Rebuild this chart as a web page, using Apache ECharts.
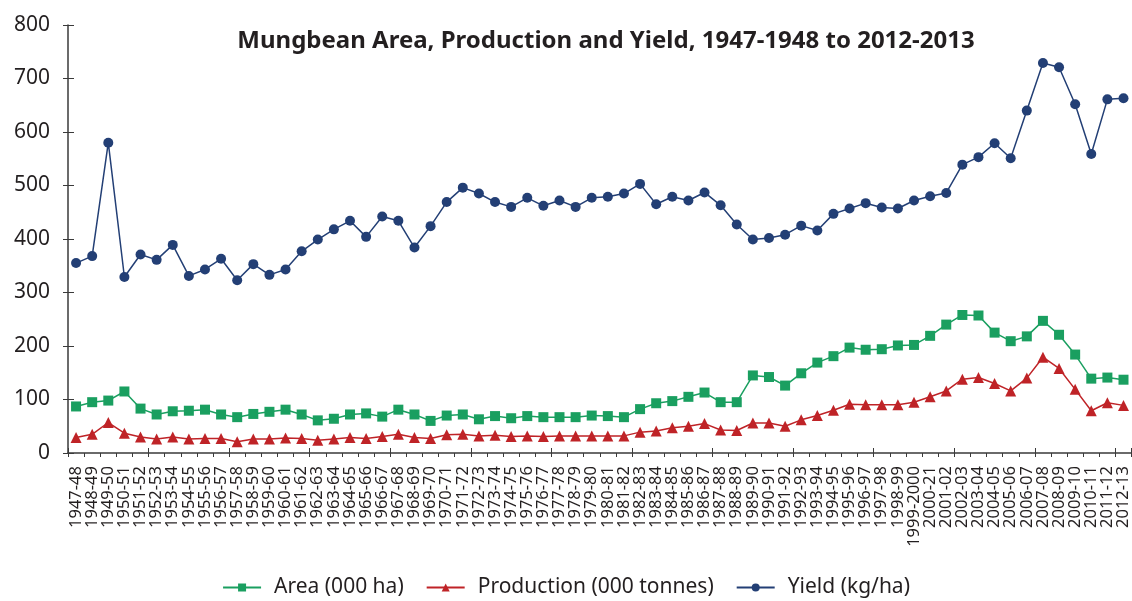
<!DOCTYPE html>
<html>
<head>
<meta charset="utf-8">
<script src="https://cdn.jsdelivr.net/npm/echarts@6/dist/echarts.min.js"></script>
<style>
  html, body { margin: 0; padding: 0; background: #fff; }
  #main { width: 1132px; height: 601px; }
</style>
</head>
<body>
<div id="main"></div>
<script>
// categories (crop years)
var years = ['1947-48','1948-49','1949-50','1950-51','1951-52','1952-53','1953-54','1954-55','1955-56','1956-57',
  '1957-58','1958-59','1959-60','1960-61','1961-62','1962-63','1963-64','1964-65','1965-66','1966-67',
  '1967-68','1968-69','1969-70','1970-71','1971-72','1972-73','1973-74','1974-75','1975-76','1976-77',
  '1977-78','1978-79','1979-80','1980-81','1981-82','1982-83','1983-84','1984-85','1985-86','1986-87',
  '1987-88','1988-89','1989-90','1990-91','1991-92','1992-93','1993-94','1994-95','1995-96','1996-97',
  '1997-98','1998-99','1999-2000','2000-21','2001-02','2002-03','2003-04','2004-05','2005-06','2006-07',
  '2007-08','2008-09','2009-10','2010-11','2011-12','2012-13'];

// Area (000 ha)
var area = [87,95,98,115,83,72,78,79,81,72,
  67,73,77,81,72,61,64,72,74,68,
  81,72,60,70,72,63,69,65,69,67,
  67,67,70,69,67,82,93,97,105,113,
  95,95,145,142,126,149,169,181,197,193,
  194,201,202,219,240,258,257,225,209,218,
  247,221,184,139,141,137];

// Production (000 tonnes)
var production = [29,35,57,37,30,26,30,26,27,27,
  21,26,26,28,27,24,26,29,27,31,
  35,29,27,34,35,32,33,31,32,31,
  32,32,32,32,32,39,41,47,50,55,
  43,42,56,56,50,62,70,80,91,90,
  90,90,95,105,116,138,141,130,116,140,
  179,158,119,79,94,89];

// Yield (kg/ha)
var yieldKg = [355,368,580,329,371,361,389,331,343,363,
  323,353,333,343,377,399,418,434,404,442,
  434,384,424,469,496,485,469,460,477,462,
  472,460,477,479,485,503,465,479,472,487,
  463,427,399,402,408,425,416,447,457,467,
  459,457,472,480,486,539,553,579,551,640,
  729,721,652,559,661,663];

var yTicks = [0, 100, 200, 300, 400, 500, 600, 700, 800];

var chart = echarts.init(document.getElementById('main'));
var axisColor = '#3a3a3a';
var option = {
  backgroundColor: '#fff',
  animation: false,
  title: {
    text: 'Mungbean Area, Production and Yield, 1947-1948 to 2012-2013',
    left: 601,
    textAlign: 'center',
    top: 24,
    textStyle: { fontFamily: 'Noto Sans', fontWeight: 'bold', fontSize: 24, color: '#231f20' }
  },
  legend: {
    top: 577,
    left: 'center',
    padding: 0,
    itemWidth: 38,
    itemHeight: 10,
    itemGap: 22,
    textStyle: { fontFamily: 'Noto Sans', fontSize: 21, color: '#231f20', padding: [0, 0, 0, 8] },
    data: ['Area (000 ha)', 'Production (000 tonnes)', 'Yield (kg/ha)']
  },
  grid: { left: 68, right: 0, top: 25, bottom: 148 },
  xAxis: [{
    type: 'category',
    data: years,
    boundaryGap: true,
    axisLine: { lineStyle: { color: axisColor, width: 1.5 } },
    axisTick: { show: true, length: 4, lineStyle: { color: axisColor } },
    axisLabel: {
      interval: 0, rotate: 90, margin: 13,
      fontFamily: 'Noto Sans', fontSize: 16.5, color: '#231f20'
    },
    splitLine: { show: false }
  }, {
    type: 'category',
    data: years,
    position: 'bottom',
    boundaryGap: true,
    axisLine: { show: false },
    axisTick: { show: true, inside: true, length: 5, lineStyle: { color: axisColor } },
    axisLabel: { show: false },
    splitLine: { show: false }
  }],
  yAxis: [{
    type: 'value',
    min: yTicks[0],
    max: yTicks[yTicks.length - 1],
    interval: 100,
    axisLine: { show: true, lineStyle: { color: axisColor, width: 1.5 } },
    axisTick: { show: true, length: 5, lineStyle: { color: axisColor } },
    axisLabel: { margin: 18, fontFamily: 'Noto Sans', fontSize: 21, color: '#231f20' },
    splitLine: { show: false }
  }, {
    type: 'value',
    min: yTicks[0],
    max: yTicks[yTicks.length - 1],
    interval: 100,
    position: 'left',
    axisLine: { show: false },
    axisTick: { show: true, inside: true, length: 6, lineStyle: { color: axisColor } },
    axisLabel: { show: false },
    splitLine: { show: false }
  }],
  series: [
    {
      name: 'Area (000 ha)',
      type: 'line',
      data: area,
      symbol: 'rect',
      symbolSize: 10,
      color: '#1a9f60',
      lineStyle: { width: 1.5, color: '#1a9f60' },
      itemStyle: { color: '#1a9f60' }
    },
    {
      name: 'Production (000 tonnes)',
      type: 'line',
      data: production,
      symbol: 'triangle',
      symbolSize: 11,
      color: '#bf2327',
      lineStyle: { width: 1.5, color: '#bf2327' },
      itemStyle: { color: '#bf2327' }
    },
    {
      name: 'Yield (kg/ha)',
      type: 'line',
      data: yieldKg,
      symbol: 'circle',
      symbolSize: 10,
      color: '#233f75',
      lineStyle: { width: 1.5, color: '#233f75' },
      itemStyle: { color: '#233f75' }
    }
  ]
};
chart.setOption(option);
</script>
</body>
</html>
